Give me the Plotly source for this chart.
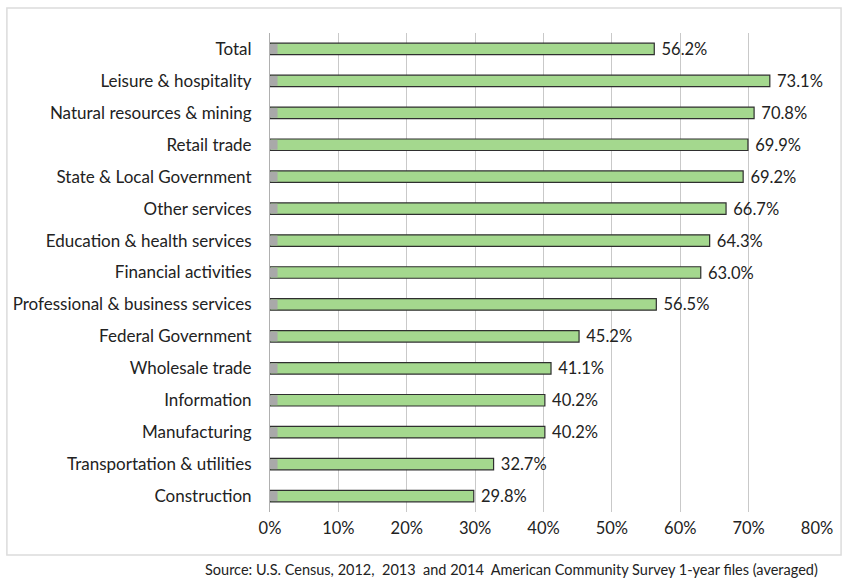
import plotly.graph_objects as go

# Share of workers by industry (percent), top to bottom as listed
industries = [
    "Total",
    "Leisure & hospitality",
    "Natural resources & mining",
    "Retail trade",
    "State & Local Government",
    "Other services",
    "Education & health services",
    "Financial activities",
    "Professional & business services",
    "Federal Government",
    "Wholesale trade",
    "Information",
    "Manufacturing",
    "Transportation & utilities",
    "Construction",
]
shares = [56.2, 73.1, 70.8, 69.9, 69.2, 66.7, 64.3, 63.0, 56.5, 45.2, 41.1, 40.2, 40.2, 32.7, 29.8]

tick_values = [0, 10, 20, 30, 40, 50, 60, 70, 80]
tick_labels = ["0%", "10%", "20%", "30%", "40%", "50%", "60%", "70%", "80%"]

source_note = "Source: U.S. Census, 2012,  2013  and 2014  American Community Survey 1-year files (averaged)"

FONT = "Lato, 'Open Sans', sans-serif"

fig = go.Figure()

fig.add_trace(go.Bar(
    y=industries,
    x=shares,
    orientation="h",
    width=0.36,
    marker=dict(color="#a4d88e", line=dict(color="#2f2f2f", width=1.2)),
    text=[f"\u00a0{v:.1f}%" for v in shares],
    textposition="outside",
    constraintext="none",
    textfont=dict(family=FONT, size=16.5, color="#222222"),
    cliponaxis=False,
    hoverinfo="skip",
))

# small grey shading at the base of every bar
fig.add_trace(go.Bar(
    y=industries,
    x=[1.1] * len(industries),
    orientation="h",
    width=0.31,
    marker=dict(color="#a9a9a9", line=dict(width=0)),
    hoverinfo="skip",
))

fig.update_layout(
    width=845,
    height=588,
    barmode="overlay",
    showlegend=False,
    paper_bgcolor="white",
    plot_bgcolor="white",
    margin=dict(l=270, r=26, t=33, b=76),
    font=dict(family=FONT, size=16.5, color="#222222"),
    xaxis=dict(
        range=[0, 80],
        tickvals=tick_values,
        ticktext=tick_labels,
        showgrid=True,
        gridcolor="#c9c9c9",
        gridwidth=1,
        zeroline=False,
        showline=False,
        ticks="outside",
        ticklen=1,
        tickcolor="rgba(0,0,0,0)",
        tickfont=dict(family=FONT, size=16.5, color="#222222"),
        fixedrange=True,
    ),
    yaxis=dict(
        categoryorder="array",
        categoryarray=industries[::-1],
        showline=True,
        linecolor="#b0b0b0",
        linewidth=1,
        ticks="outside",
        ticklen=14,
        tickcolor="rgba(0,0,0,0)",
        showgrid=False,
        tickfont=dict(family=FONT, size=17, color="#222222"),
        fixedrange=True,
    ),
    shapes=[
        dict(type="rect", xref="paper", yref="paper",
             x0=-0.481, x1=1.044, y0=-0.090, y1=1.052,
             line=dict(color="#dcdcdc", width=1.5), fillcolor="rgba(0,0,0,0)",
             layer="below"),
    ],
    annotations=[
        dict(text=source_note, xref="paper", yref="paper",
             x=1.006, y=-0.098, xanchor="right", yanchor="top",
             showarrow=False, font=dict(family=FONT, size=14.5, color="#222222")),
    ],
)

fig.write_html("out.html")
